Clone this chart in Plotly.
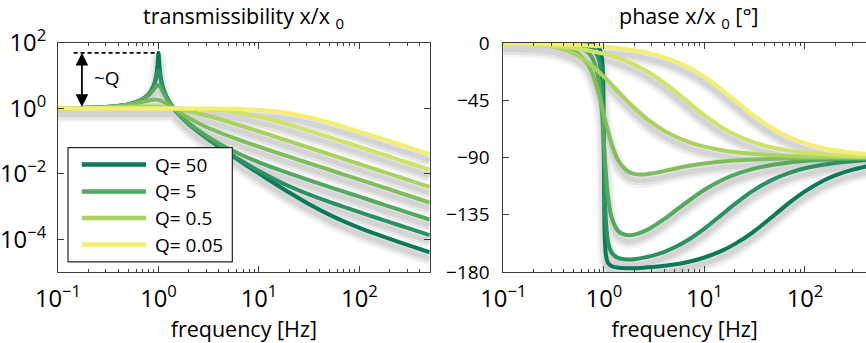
import math
import plotly.graph_objects as go

# Frequencies at which the responses are sampled [Hz]
freq_hz = [0.1, 0.2, 0.3, 0.5, 0.7, 0.8, 0.9, 0.95, 0.98, 1.0, 1.02, 1.05, 1.1, 1.2,
           1.4, 1.7, 2, 2.5, 3, 4, 5, 7, 10, 15, 20, 30, 50, 70, 100, 150, 200, 300, 500]

# Quality factors, from lightly to heavily damped
q_values = [50, 15, 5, 1.5, 0.5, 0.15, 0.05]
q_colors = ["#0b7a5a", "#2b9161", "#55a85f", "#80be5d", "#a9d25f", "#d0e267", "#f4ef6f"]
legend_q = [50, 5, 0.5, 0.05]

# |x/x0| for each Q
mag_q50 = [1.010, 1.042, 1.099, 1.333, 1.960, 2.775, 5.240, 10.07, 22.63, 50.01, 22.10, 9.559, 4.737,
           2.270, 1.041, 0.5293, 0.3336, 0.1907, 0.1252, 0.06688, 0.04188, 0.02104, 0.01030,
           0.004661, 0.002699, 0.001297, 5.659e-4, 3.512e-4, 2.236e-4, 1.406e-4, 1.031e-4,
           6.759e-5, 4.020e-5]
mag_q15 = [1.010, 1.042, 1.099, 1.333, 1.955, 2.752, 5.028, 8.619, 13.12, 15.03, 12.67, 8.076, 4.508,
           2.243, 1.041, 0.5315, 0.3360, 0.1930, 0.1274, 0.06899, 0.04392, 0.02299, 0.01214,
           0.006313, 0.004177, 0.002487, 0.001393, 9.742e-4, 6.742e-4, 4.467e-4, 3.343e-4,
           2.225e-4, 1.334e-4]
mag_q5 = [1.010, 1.042, 1.098, 1.328, 1.909, 2.571, 3.882, 4.766, 5.096, 5.099, 4.908, 4.373, 3.367,
          2.052, 1.038, 0.5500, 0.3559, 0.2120, 0.1454, 0.08525, 0.05888, 0.03583, 0.02258,
          0.01412, 0.01033, 0.006766, 0.004022, 0.002865, 0.002003, 0.001334, 0.001000,
          6.668e-4, 4.000e-4]
mag_q1_5 = [1.010, 1.041, 1.095, 1.284, 1.596, 1.761, 1.853, 1.847, 1.825, 1.803, 1.775, 1.725, 1.626,
            1.403, 1.022, 0.6859, 0.5077, 0.3529, 0.2712, 0.1869, 0.1436, 0.09896, 0.06794,
            0.04482, 0.03349, 0.02227, 0.01334, 0.009528, 0.006668, 0.004445, 0.003334,
            0.002222, 0.001333]
mag_q0_5 = [1.010, 1.036, 1.070, 1.131, 1.155, 1.150, 1.138, 1.129, 1.122, 1.118, 1.113, 1.106, 1.093,
            1.066, 1.004, 0.9111, 0.8246, 0.7033, 0.6083, 0.4743, 0.3865, 0.2807, 0.1983,
            0.1328, 0.09978, 0.06660, 0.03999, 0.02857, 0.02000, 0.01333, 0.01000, 0.006667,
            0.004000]
mag_q0_15 = [1.007, 1.014, 1.018, 1.019, 1.017, 1.015, 1.013, 1.012, 1.012, 1.011, 1.011, 1.010, 1.009,
             1.006, 1.000, 0.9902, 0.9784, 0.9555, 0.9296, 0.8722, 0.8119, 0.6972, 0.5586,
             0.4077, 0.3170, 0.2172, 0.1322, 0.09483, 0.06653, 0.04440, 0.03332, 0.02222,
             0.01333]
mag_q0_05 = [1.002, 1.002, 1.002, 1.002, 1.002, 1.002, 1.001, 1.001, 1.001, 1.001, 1.001, 1.001, 1.001,
             1.001, 1.000, 0.9989, 0.9975, 0.9947, 0.9914, 0.9830, 0.9724, 0.9460, 0.8962,
             0.8013, 0.7080, 0.5551, 0.3715, 0.2748, 0.1961, 0.1322, 0.09951, 0.06652, 0.03997]

# Phase of x/x0 [deg] for each Q
ph_q50 = [0.0, -0.01, -0.03, -0.19, -0.77, -1.63, -4.38, -9.94, -25.2, -88.85, -152.0, -167.2, -172.8,
          -175.5, -176.7, -177.0, -177.0, -176.6, -176.1, -175.1, -174.1, -171.9, -168.6, -163.2,
          -158.1, -149.0, -135.0, -125.5, -116.6, -108.4, -104.0, -99.5, -95.7]
ph_q15 = [0.0, -0.03, -0.11, -0.64, -2.56, -5.37, -14.09, -29.39, -55.04, -86.19, -116.8, -141.7,
          -156.6, -165.1, -169.1, -170.1, -169.9, -168.7, -167.3, -164.1, -160.8, -154.4, -145.9,
          -134.7, -126.7, -116.4, -106.6, -102.0, -98.5, -95.7, -94.3, -92.9, -91.7]
ph_q5 = [-0.01, -0.10, -0.34, -1.88, -7.38, -14.87, -33.25, -52.08, -67.49, -78.69, -89.67, -104.2,
         -121.3, -137.9, -148.1, -151.0, -150.6, -148.0, -144.8, -138.3, -132.6, -123.9, -115.4,
         -107.7, -103.5, -99.1, -95.5, -93.9, -92.8, -91.8, -91.4, -90.9, -90.6]
ph_q1_5 = [-0.04, -0.31, -1.09, -5.53, -17.44, -27.91, -41.47, -48.90, -53.37, -56.31, -59.18, -63.34,
           -69.73, -80.15, -92.78, -100.5, -102.9, -103.4, -102.5, -100.5, -98.8, -96.5, -94.7,
           -93.2, -92.4, -91.6, -91.0, -90.7, -90.5, -90.3, -90.2, -90.2, -90.1]
ph_q0_5 = [-0.11, -0.82, -2.44, -8.13, -15.53, -19.33, -23.02, -24.82, -25.87, -26.57, -27.25, -28.25,
           -29.89, -33.01, -38.57, -45.46, -50.91, -57.71, -62.59, -69.06, -73.09, -77.83, -81.44,
           -84.28, -85.71, -87.14, -88.28, -88.77, -89.14, -89.43, -89.57, -89.71, -89.83]
ph_q0_15 = [-0.27, -1.12, -2.09, -4.02, -5.86, -6.76, -7.65, -8.09, -8.35, -8.53, -8.71, -8.97, -9.41,
            -10.27, -11.99, -14.51, -16.97, -20.92, -24.66, -31.51, -37.47, -47.04, -56.90, -66.51,
            -71.95, -77.75, -82.57, -84.68, -86.27, -87.51, -88.13, -88.76, -89.25]
ph_q0_05 = [-0.23, -0.54, -0.84, -1.42, -2.00, -2.29, -2.58, -2.72, -2.81, -2.86, -2.92, -3.00, -3.15,
            -3.44, -4.01, -4.87, -5.72, -7.14, -8.55, -11.34, -14.07, -19.33, -26.62, -36.94,
            -45.07, -56.38, -68.25, -74.09, -78.72, -82.42, -84.30, -86.20, -87.72]

magnitudes = [mag_q50, mag_q15, mag_q5, mag_q1_5, mag_q0_5, mag_q0_15, mag_q0_05]
phases = [ph_q50, ph_q15, ph_q5, ph_q1_5, ph_q0_5, ph_q0_15, ph_q0_05]

# Decade labels written as powers of ten
decade_labels = {"1": "10<sup>0</sup>", "10": "10<sup>1</sup>"}

# Guide for the resonance height (~Q) at the left of the magnitude plot
guide_start_hz = 0.143
arrow_hz = 0.173
q_label_hz = 0.305
q_label_level = 8.3

FONT = "Open Sans, Noto Sans, sans-serif"
AXIS_COLOR = "#3c3c3c"
W, H = 866, 343
M_L, M_R, M_T, M_B = 55, 0, 43, 71
LEFT_DOM = [0.0, 0.46]
RIGHT_DOM = [0.5512, 1.0]

MAG_RANGE = [-5, 2]
PH_RANGE = [-180, 0]
X_RANGE_L = [-1, math.log10(500)]
X_RANGE_R = [-1, 2.607]

# Soft drop shadow: curves are redrawn on hidden axes whose range is moved up,
# so the shadow lands a few pixels below the real line
plot_h = H - M_T - M_B
shadow_px = 6
mag_shift = shadow_px * (MAG_RANGE[1] - MAG_RANGE[0]) / plot_h
ph_shift = shadow_px * (PH_RANGE[1] - PH_RANGE[0]) / plot_h

fig = go.Figure()


def joined(series_list):
    xs, ys = [], []
    for s in series_list:
        xs += freq_hz + [None]
        ys += s + [None]
    return xs, ys


# one trace per blur layer, so overlapping curves do not darken the shadow
for xa, ya, series in (("x", "y", magnitudes), ("x2", "y2", phases)):
    xs, ys = joined(series)
    for width, alpha in ((15, 0.045), (10, 0.06), (5, 0.07)):
        fig.add_trace(go.Scatter(
            x=xs, y=ys, xaxis=xa, yaxis=ya, mode="lines", connectgaps=False, opacity=alpha,
            line=dict(color="black", width=width, shape="spline", smoothing=0.8),
            hoverinfo="skip", showlegend=False))

for q, col, mag, ph in zip(q_values, q_colors, magnitudes, phases):
    fig.add_trace(go.Scatter(
        x=freq_hz, y=mag, xaxis="x3", yaxis="y3", mode="lines", name=f"Q= {q:g}",
        line=dict(color=col, width=4, shape="spline", smoothing=0.8), showlegend=False))
    fig.add_trace(go.Scatter(
        x=freq_hz, y=ph, xaxis="x4", yaxis="y4", mode="lines", name=f"Q= {q:g}",
        line=dict(color=col, width=4, shape="spline", smoothing=0.8), showlegend=False))

# Dashed level at the resonance peak height
q_max = max(q_values)
fig.add_trace(go.Scatter(
    x=[guide_start_hz, 1.0], y=[q_max, q_max], xaxis="x3", yaxis="y3", mode="lines",
    line=dict(color="black", width=1.6, dash="4px,3px"), hoverinfo="skip", showlegend=False))

tick_font = dict(family=FONT, size=19, color="black")
label_font = dict(family=FONT, size=19, color="black")
title_font = dict(family=FONT, size=21.5, color="black")

hidden = dict(visible=False, showgrid=False, zeroline=False)
common_x = dict(type="log", dtick=1, exponentformat="power", labelalias=decade_labels,
                showgrid=False, zeroline=False,
                showline=True, linecolor=AXIS_COLOR, linewidth=1, ticks="inside", ticklen=6,
                tickcolor=AXIS_COLOR, mirror="ticks", tickfont=tick_font, ticklabelstandoff=6,
                minor=dict(ticks="inside", ticklen=3, dtick="D1", tickcolor=AXIS_COLOR, showgrid=False),
                title=dict(text="frequency [Hz]", font=title_font, standoff=0))

fig.update_layout(
    width=W, height=H, margin=dict(l=M_L, r=M_R, t=M_T, b=M_B),
    paper_bgcolor="white", plot_bgcolor="white", showlegend=False,
    xaxis=dict(domain=LEFT_DOM, type="log", range=X_RANGE_L, **hidden),
    yaxis=dict(type="log", range=[MAG_RANGE[0] + mag_shift, MAG_RANGE[1] + mag_shift], **hidden),
    xaxis2=dict(domain=RIGHT_DOM, type="log", range=X_RANGE_R, anchor="y2", **hidden),
    yaxis2=dict(range=[PH_RANGE[0] + ph_shift, PH_RANGE[1] + ph_shift], anchor="x2", **hidden),
    xaxis3=dict(overlaying="x", anchor="y3", range=X_RANGE_L, **common_x),
    yaxis3=dict(overlaying="y", anchor="x3", type="log", range=MAG_RANGE, dtick=2,
                exponentformat="power", labelalias=decade_labels, showgrid=False, zeroline=False,
                showline=True, linecolor=AXIS_COLOR, linewidth=1, ticks="inside", ticklen=6,
                tickcolor=AXIS_COLOR, mirror="ticks", tickfont=tick_font, ticklabelstandoff=7),
    xaxis4=dict(overlaying="x2", anchor="y4", range=X_RANGE_R, **common_x),
    yaxis4=dict(overlaying="y2", anchor="x4", range=PH_RANGE, dtick=45, tick0=0,
                showgrid=False, zeroline=False, showline=True, linecolor=AXIS_COLOR, linewidth=1,
                ticks="inside", ticklen=6, tickcolor=AXIS_COLOR, mirror=False,
                tickfont=tick_font, ticklabelstandoff=9),
)

annotations = [
    dict(text="transmissibility x/x <sub>0</sub>", xref="paper", yref="paper",
         x=sum(LEFT_DOM) / 2, xanchor="center", y=1, yanchor="bottom", yshift=8,
         showarrow=False, font=title_font),
    dict(text="phase x/x <sub>0</sub> [°]", xref="paper", yref="paper",
         x=0.7805, xanchor="center", y=1, yanchor="bottom", yshift=8,
         showarrow=False, font=title_font),
    # double arrow spanning the resonance gain
    dict(text="", xref="x3", yref="y3", axref="x3", ayref="y3",
         x=math.log10(arrow_hz), y=math.log10(q_max), ax=math.log10(arrow_hz), ay=0,
         showarrow=True, arrowhead=2, startarrowhead=2, arrowside="end+start",
         arrowsize=1.4, startarrowsize=1.4, arrowwidth=1.8, arrowcolor="black",
         standoff=0, startstandoff=0),
    dict(text="~Q", xref="x3", yref="y3", x=math.log10(q_label_hz), y=math.log10(q_label_level),
         showarrow=False, font=label_font),
]

# Legend panel drawn in the magnitude plot
shapes = [dict(type="rect", xref="x3 domain", yref="y3 domain", x0=0.027, x1=0.469,
               y0=0.044, y1=0.543, fillcolor="white", line=dict(color="#222", width=1.2),
               layer="above")]
row_y = [0.469, 0.352, 0.236, 0.120]
for q, ry in zip(legend_q, row_y):
    col = q_colors[q_values.index(q)]
    shapes.append(dict(type="line", xref="x3 domain", yref="y3 domain", x0=0.064, x1=0.237,
                       y0=ry, y1=ry, line=dict(color=col, width=4.5), layer="above"))
    annotations.append(dict(text=f"Q= {q:g}", xref="x3 domain", yref="y3 domain", x=0.255, y=ry,
                            xanchor="left", yanchor="middle", showarrow=False, font=label_font))

fig.update_layout(shapes=shapes, annotations=annotations)
fig.write_html("out.html")
